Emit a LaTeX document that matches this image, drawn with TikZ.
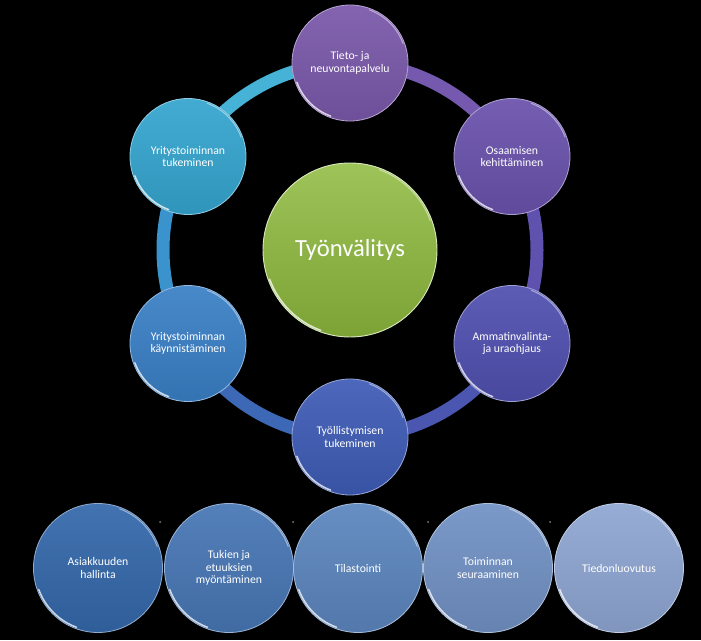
\documentclass[tikz,border=0pt]{standalone}
\usepackage{fontspec}
\setmainfont{Carlito}
\usepackage{xcolor}
\usepackage{tikz}
\usetikzlibrary{positioning,calc}
\definecolor{leaf}{HTML}{8DB93C}
\definecolor{plum}{HTML}{7A58AA}
\definecolor{violet}{HTML}{6A52AC}
\definecolor{indigo}{HTML}{5050B0}
\definecolor{royal}{HTML}{3F5CB6}
\definecolor{ocean}{HTML}{3A80C6}
\definecolor{teal}{HTML}{35A5CF}
\definecolor{rowa}{HTML}{3468AA}
\definecolor{rowb}{HTML}{4776B4}
\definecolor{rowc}{HTML}{5C86BE}
\definecolor{rowd}{HTML}{7191C4}
\definecolor{rowe}{HTML}{8EA6D2}
\definecolor{ringcyan}{HTML}{45B2D6}
\definecolor{ringsky}{HTML}{3A93CC}
\definecolor{ringblue}{HTML}{3C68B6}
\definecolor{ringindigo}{HTML}{4A56B0}
\definecolor{ringviolet}{HTML}{5E52AE}
\definecolor{ringpurple}{HTML}{7559AE}
\tikzset{
  font=\fontsize{10}{10.5}\selectfont,
  hub/.style   = {circle, minimum size=52.2mm, inner sep=0pt, text=white,
                  top color=leaf!85!white, bottom color=leaf!88!black,
                  draw=leaf!35!white, line width=0.8pt,
                  font=\fontsize{21}{25}\selectfont},
  spoke/.style = {circle, minimum size=34.8mm, inner sep=0pt, align=center,
                  text=white, top color=#1!93!white, bottom color=#1!90!black,
                  draw=#1!55!white, line width=0.7pt},
  base/.style  = {spoke=#1, minimum size=38.7mm},
  band/.style  = {line width=3.9mm},
  gloss/.style = {draw=white, line width=1.3pt, opacity=0.75, line cap=round},
  sheen/.style = {draw=white, line width=0.9pt, opacity=0.45, line cap=round},
}
\begin{document}
\begin{tikzpicture}[x=0.3mm, y=0.3mm]
\fill[black] (0,0) rectangle (701,640);
\useasboundingbox (0,0) rectangle (701,640);

% ---------------- ring ------------------------------------------------
\coordinate (mid) at (350,390);
\foreach \a/\c in {90/ringcyan, 150/ringsky, 210/ringblue,
                   270/ringindigo, 330/ringviolet, 30/ringpurple}
  \draw[band, draw=\c] (mid) ++(\a:187) arc[start angle=\a, end angle=\a+60, radius=187];

% ---------------- centre and spokes -----------------------------------
\node[hub] (tyon) at (mid) {Työnvälitys};

\node[spoke=plum]   (tieto)  at (350,577)   {Tieto- ja\\neuvontapalvelu};
\node[spoke=violet] (osaam)  at (512,483.5) {Osaamisen\\kehittäminen};
\node[spoke=indigo] (ammat)  at (512,296.5) {Ammatinvalinta-\\ja uraohjaus};
\node[spoke=royal]  (tyoll)  at (350,203)   {Työllistymisen\\tukeminen};
\node[spoke=ocean]  (kaynn)  at (188,296.5) {Yritystoiminnan\\käynnistäminen};
\node[spoke=teal]   (yrit)   at (188,483.5) {Yritystoiminnan\\tukeminen};

% ---------------- bottom row ------------------------------------------
\node[base=rowa] (asiak) at (98,72)  {Asiakkuuden\\hallinta};
\node[base=rowb] (tukie) at (229,72) {Tukien ja\\etuuksien\\myöntäminen};
\node[base=rowc] (tilas) at (358,72) {Tilastointi};
\node[base=rowd] (toimi) at (488,72) {Toiminnan\\seuraaminen};
\node[base=rowe] (tiedo) at (619,72) {Tiedonluovutus};

% rim highlights
\foreach \n/\r in {tyon/85.5, tieto/56.5, osaam/56.5, ammat/56.5, tyoll/56.5,
                   kaynn/56.5, yrit/56.5, asiak/63, tukie/63, tilas/63,
                   toimi/63, tiedo/63} {
  \draw[gloss] ($(\n.center)+(200:\r)$) arc[start angle=200, end angle=250, radius=\r];
  \draw[sheen] ($(\n.center)+(20:\r)$) arc[start angle=20, end angle=70, radius=\r];
}

\foreach \x in {160,293,428,550}
  \fill[gray] (\x,118) circle (1);

\end{tikzpicture}
\end{document}
